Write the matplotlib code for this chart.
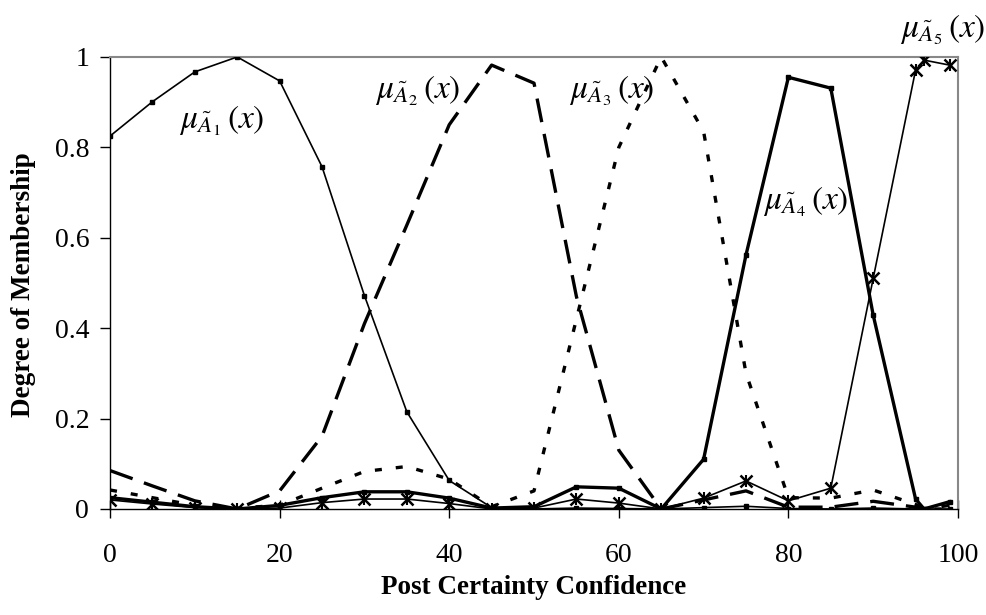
import numpy as np
import matplotlib
matplotlib.use('Agg')
import matplotlib.pyplot as plt

plt.rcParams['font.family'] = ['Liberation Serif', 'DejaVu Serif']
plt.rcParams['mathtext.fontset'] = 'stix'

x = [0, 5, 10, 15, 20, 25, 30, 35, 40, 45, 50, 55, 60, 65, 70, 75, 80, 85, 90, 95, 96, 99]

a1 = [0.825, 0.901, 0.967, 1.0, 0.947, 0.757, 0.472, 0.215, 0.063, 0.003, 0.0, 0.002,
      0.001, 0.0, 0.003, 0.006, 0.001, 0.0, 0.002, 0.0, 0.0, 0.0]
a2 = [0.085, 0.051, 0.018, 0.0, 0.040, 0.161, 0.410, 0.628, 0.850, 0.982, 0.942, 0.470,
      0.130, 0.0, 0.020, 0.040, 0.004, 0.004, 0.017, 0.004, 0.0, 0.008]
a3 = [0.042, 0.025, 0.008, 0.002, 0.008, 0.046, 0.083, 0.094, 0.066, 0.005, 0.040, 0.420,
      0.800, 1.0, 0.835, 0.300, 0.025, 0.024, 0.042, 0.010, 0.0, 0.0]
a4 = [0.025, 0.015, 0.005, 0.0, 0.008, 0.025, 0.038, 0.038, 0.024, 0.002, 0.005, 0.049,
      0.046, 0.0, 0.110, 0.562, 0.955, 0.931, 0.429, 0.022, 0.0, 0.016]
a5 = [0.020, 0.011, 0.003, 0.0, 0.002, 0.014, 0.022, 0.022, 0.012, 0.0, 0.002, 0.022,
      0.013, 0.0, 0.024, 0.062, 0.018, 0.046, 0.510, 0.971, 0.993, 0.982]

labels = [r'$\mu_{\tilde{A}_1}\,(x)$', r'$\mu_{\tilde{A}_2}\,(x)$', r'$\mu_{\tilde{A}_3}\,(x)$',
          r'$\mu_{\tilde{A}_4}\,(x)$', r'$\mu_{\tilde{A}_5}\,(x)$']
label_pos = [(13.2, 0.86), (36.3, 0.925), (59.2, 0.925), (82.1, 0.68), (98.2, 1.06)]

fig = plt.figure(figsize=(9.87, 6.15), dpi=100)
ax = fig.add_axes([0.1115, 0.1724, 0.8591, 0.7350])

ax.plot(x, a1, color='black', lw=1.2, marker='s', ms=2.2, zorder=3)
ax.plot(x, a2, color='black', lw=2.4, ls=(0, (7.2, 3.6)), dash_capstyle='butt', zorder=3)
ax.plot(x, a3, color='black', lw=2.4, ls=(0, (2.1, 4.2)), dash_capstyle='butt', zorder=3)
ax.plot(x, a4, color='black', lw=2.4, marker='s', ms=3, zorder=3)
ax.plot(x, a5, color='black', lw=1.2, zorder=4)
ax.plot(x, a5, color='black', ls='none', marker='x', ms=8, mew=1.8, zorder=5)
ax.plot(x, a5, color='black', ls='none', marker='|', ms=9, mew=1.5, zorder=5)

for lab, (lx, ly) in zip(labels, label_pos):
    ax.text(lx, ly, lab, fontsize=24, ha='center', va='center', clip_on=False, zorder=6)

ax.set_xlim(0, 100)
ax.set_ylim(0, 1)
ax.set_xticks([0, 20, 40, 60, 80, 100])
ax.set_yticks([0, 0.2, 0.4, 0.6, 0.8, 1])
ax.set_yticklabels(['0', '0.2', '0.4', '0.6', '0.8', '1'])
ax.tick_params(axis='x', direction='inout', length=13, width=1, pad=18, labelsize=20)
ax.tick_params(axis='y', direction='out', length=7, width=1, pad=8, labelsize=20)

for s in ['top', 'right']:
    ax.spines[s].set_color('#888888')
    ax.spines[s].set_linewidth(1.5)
for s in ['left', 'bottom']:
    ax.spines[s].set_color('black')
    ax.spines[s].set_linewidth(1.0)

fig.text(0.541, 0.044, 'Post Certainty Confidence', fontsize=19.5, fontweight='bold',
         ha='center', va='center')
fig.text(0.024, 0.537, 'Degree of Membership', fontsize=19.5, fontweight='bold',
         ha='center', va='center', rotation=90)

fig.savefig('out.png', dpi=100)
